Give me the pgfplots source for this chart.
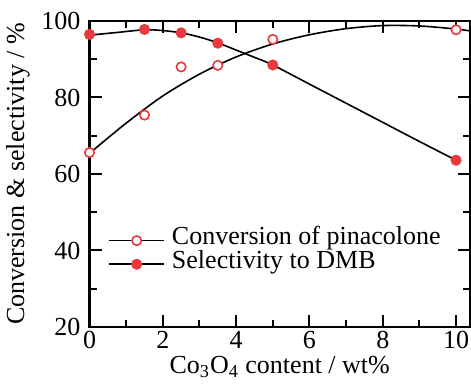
\documentclass[border=0pt]{standalone}
\usepackage{fontspec}
\setmainfont{Liberation Serif}
\usepackage{pgfplots}
\pgfplotsset{compat=1.18}
\definecolor{myred}{RGB}{233,56,62}
\begin{document}
\fontsize{13bp}{15bp}\selectfont
\begin{tikzpicture}
\begin{axis}[
  scale only axis, width=190.25bp, height=153bp,
  xmin=0, xmax=10.38, ymin=20, ymax=100,
  xtick={0,2,...,10}, minor xtick={1,3,...,9},
  ytick={20,40,...,100}, minor ytick={30,50,...,90},
  tick align=inside,
  major tick length=6bp, minor tick length=3.5bp,
  axis line style={line width=1.2bp},
  every tick/.style={black, line width=1bp},
  /pgf/number format/assume math mode=true,
  ticklabel style={font=\fontsize{13bp}{15bp}\selectfont},
  xticklabel style={yshift=2.5bp},
  label style={font=\fontsize{13bp}{15bp}\selectfont},
  xlabel={Co\textsubscript{3}O\textsubscript{4} content / wt\%},
  ylabel={Conversion \& selectivity / \%},
  xlabel style={yshift=5bp},
  ylabel style={yshift=-3bp},
  clip=false,
  legend image code/.code={\draw[#1, mark repeat=2, mark phase=2] plot coordinates {(0bp,0bp) (13.75bp,0bp) (27.5bp,0bp)};},
  legend style={at={(0.0486,0.2436)}, anchor=west, draw=none, fill=none, inner sep=0pt,
    font=\fontsize{13bp}{15bp}\selectfont,
    nodes={inner sep=0pt, text height=7.2bp, text depth=3.1bp},
    row sep=1.5bp, column sep=3.5bp},
  legend cell align=left,
]
% fitted curves
\addplot[black, line width=0.8bp, smooth, forget plot] coordinates {
  (0,65.4) (1,73.3) (2,80.4) (3,86.1) (4,90.6) (5,94.0) (6,96.4) (7,98.0) (8,98.8) (9,98.7) (10,97.9) (10.38,97.4)};
\addplot[black, line width=0.8bp, smooth, forget plot] coordinates {
  (0,96.3) (0.75,97.0) (1.5,97.7) (2,97.5) (2.5,96.9) (3,95.8) (3.5,94.3) (4,92.4) (4.5,90.5) (5,88.5) (6,83.5) (7,78.5) (8,73.5) (9,68.5) (10,63.6)};
% data
\addplot[only marks, mark=*, mark size=2.35bp, mark options={draw=myred, fill=white, line width=0.8bp}, forget plot] coordinates {
  (0,65.6) (1.5,75.4) (2.5,88.0) (3.5,88.4) (5,95.2) (10,97.7)};
\addplot[only marks, mark=*, mark size=2.35bp, mark options={draw=myred, fill=myred, line width=0.8bp}, forget plot] coordinates {
  (0,96.5) (1.5,97.8) (2.5,96.9) (3.5,94.2) (5,88.5) (10,63.6)};
\addlegendimage{black, line width=0.8bp, mark=*, mark size=2.35bp, mark options={draw=myred, fill=white, line width=0.8bp}}
\addlegendentry{Conversion of pinacolone}
\addlegendimage{black, line width=0.8bp, mark=*, mark size=2.35bp, mark options={draw=myred, fill=myred, line width=0.8bp}}
\addlegendentry{Selectivity to DMB}
\coordinate (SW) at (rel axis cs:0,0);
\coordinate (NE) at (rel axis cs:1,1);
\end{axis}
\pgfresetboundingbox
\path ([shift={(-44.75bp,-31bp)}]SW) rectangle ([shift={(0.5bp,10.5bp)}]NE);
\end{tikzpicture}
\end{document}
